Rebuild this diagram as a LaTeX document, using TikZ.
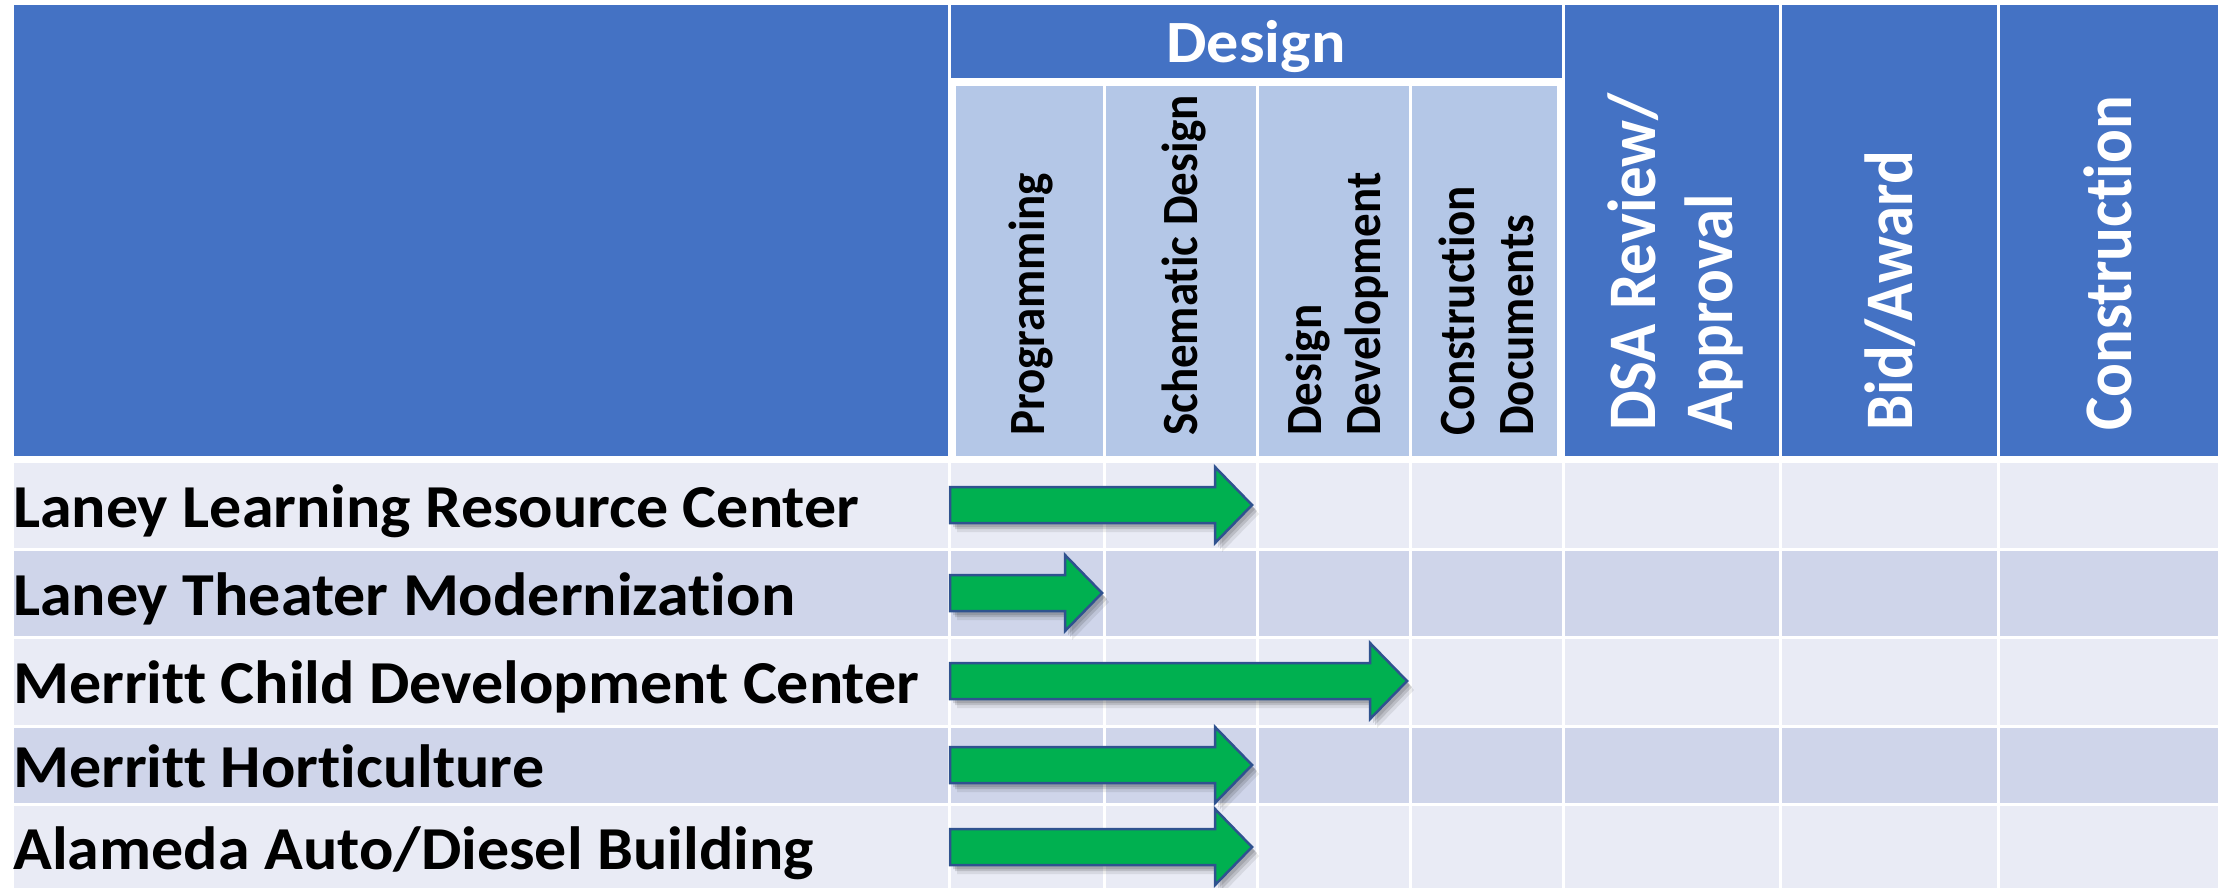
\documentclass[tikz,border=0pt]{standalone}
\usepackage{fontspec}
\setmainfont[Ligatures=NoCommon]{Carlito}
\definecolor{hdrblue}{HTML}{4472C4}
\definecolor{subblue}{HTML}{B4C7E7}
\definecolor{bandlight}{HTML}{E9EBF5}
\definecolor{banddark}{HTML}{CFD5EA}
\definecolor{arrgreen}{HTML}{00B050}
\definecolor{arrline}{HTML}{2F528F}
\tikzset{
  hdr/.style={fill=hdrblue},
  subcell/.style={fill=subblue},
  bandA/.style={fill=bandlight},
  bandB/.style={fill=banddark},
  rowlabel/.style={anchor=base west, inner sep=0pt, xscale=1.05, font=\fontsize{61}{73}\selectfont\bfseries, text=black},
  titlelabel/.style={anchor=base, inner sep=0pt, xscale=1.07, font=\fontsize{60}{72}\selectfont\bfseries, text=white},
  vsmall/.style={xscale=1.08, rotate=90, anchor=base west, inner sep=0pt, align=left, font=\fontsize{47}{54}\selectfont\bfseries, text=black},
  vbig/.style={xscale=1.08, rotate=90, anchor=base west, inner sep=0pt, align=left, font=\fontsize{63}{71}\selectfont\bfseries, text=white},
  arrbody/.style={fill=arrgreen, draw=arrline, line width=2.5pt, line join=miter},
  arrshadow/.style={fill=black, opacity=#1},
}
\begin{document}
\begin{tikzpicture}[x=1pt,y=-1pt]
\useasboundingbox (0,0) rectangle (2221,888);
\fill[white] (0,0) rectangle (2221,888);
% header cells
\fill[hdr] (14,5) rectangle (948,456);
\fill[hdr] (951,5) rectangle (1562,78);
\fill[hdr] (1565,5) rectangle (1779,456);
\fill[hdr] (1782,5) rectangle (1997,456);
\fill[hdr] (2000,5) rectangle (2218,456);
\foreach \ca/\cb in {956/1103,1106/1256,1259/1409,1412/1557}
  \fill[subcell] (\ca,86) rectangle (\cb,456);
% body rows
\foreach \rt/\rb/\rs in {463/548/bandA,551/636/bandB,639/725/bandA,728/803/bandB,806/888/bandA}{
  \foreach \ca/\cb in {14/948,951/1103,1106/1256,1259/1409,1412/1562,1565/1779,1782/1997,2000/2218}
    \fill[\rs] (\ca,\rt) rectangle (\cb,\rb);
}
% arrows
\foreach \yc/\xt in {505/1252,593/1102,681/1407,765/1252,847/1252}{
  \foreach \sx/\sy/\op in {7/9/0.08,5/6/0.12,3/4/0.12}{
    \fill[arrshadow=\op, shift={(\sx,\sy)}] (950,{\yc-18}) -- ({\xt-37},{\yc-18}) -- ({\xt-37},{\yc-38}) -- (\xt,\yc) -- ({\xt-37},{\yc+38}) -- ({\xt-37},{\yc+18}) -- (950,{\yc+18}) -- cycle;
  }
  \filldraw[arrbody] (950,{\yc-18}) -- ({\xt-37},{\yc-18}) -- ({\xt-37},{\yc-38}) -- (\xt,\yc) -- ({\xt-37},{\yc+38}) -- ({\xt-37},{\yc+18}) -- (950,{\yc+18}) -- cycle;
}
% header texts
\node[titlelabel] (design) at (1256,63) {Design};
\node[vsmall] (prog) at (1044,436) {Programming};
\node[vsmall] (sd) at (1197,436) {Schematic Design};
\node[vsmall] (dd) at (1380,436) {Design\\Development};
\node[vsmall] (cd) at (1533,436) {Construction\\Documents};
\node[vbig] (dsa) at (1732,431) {DSA Review/\\Approval};
\node[vbig] (bid) at (1912,431) {Bid/Award};
\node[vbig] (con) at (2131,431) {Construction};
% row labels
\node[rowlabel] (r1) at (13,527) {Laney Learning Resource Center};
\node[rowlabel] (r2) at (13,615) {Laney Theater Modernization};
\node[rowlabel] (r3) at (13,703) {Merritt Child Development Center};
\node[rowlabel] (r4) at (13,787) {Merritt Horticulture};
\node[rowlabel] (r5) at (13,869) {Alameda Auto/Diesel Building};
\end{tikzpicture}
\end{document}
